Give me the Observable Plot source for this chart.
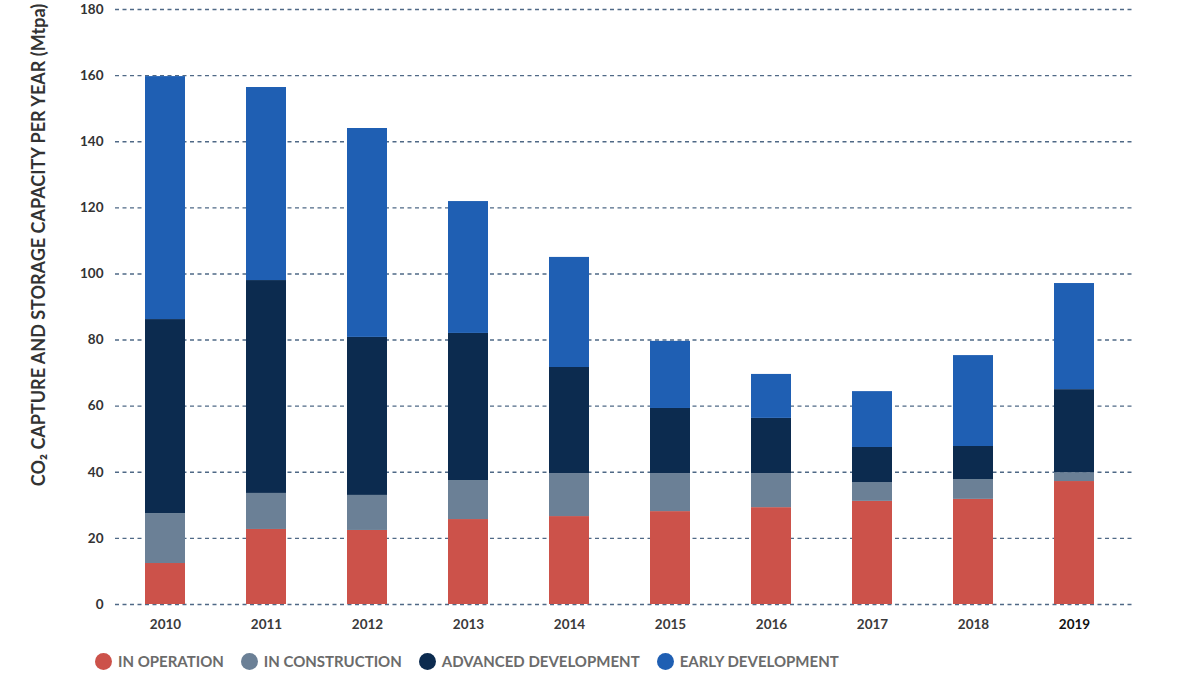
<!DOCTYPE html>
<html>
<head>
<meta charset="utf-8">
<script src="https://cdn.jsdelivr.net/npm/d3@7"></script>
<script src="https://cdn.jsdelivr.net/npm/@observablehq/plot@0.6"></script>
<style>
  body { margin: 0; background: #fff; font-family: Lato, "Open Sans", sans-serif; }
  #chart { position: relative; width: 1200px; }
  .legend { display: flex; align-items: center; padding-left: 95px; height: 34px; padding-top: 4px; }
  .legend .item { display: flex; align-items: center; margin-right: 17px; }
  .legend .dot { width: 17px; height: 17px; border-radius: 50%; margin-right: 6px; }
  .legend .lbl { font-family: Lato, sans-serif; font-weight: 700; font-size: 15px; color: #6b6b6b; }
</style>
</head>
<body>
<div id="chart"></div>
<script>
const years = ["2010","2011","2012","2013","2014","2015","2016","2017","2018","2019"];
const inOperation    = [12.4, 22.7, 22.4, 25.7, 26.6, 28.1, 29.3, 31.2, 31.8, 37.2];
const inConstruction = [15.1, 10.9, 10.6, 11.8, 13.0, 11.5, 10.3, 5.7, 6.0, 2.7];
const advancedDev    = [58.7, 64.4, 47.8, 44.5, 32.1, 19.7, 16.7, 10.6, 10.0, 25.1];
const earlyDev       = [73.5, 58.4, 63.2, 39.9, 33.3, 20.3, 13.3, 16.9, 27.5, 32.1];
const stages = ["IN OPERATION", "IN CONSTRUCTION", "ADVANCED DEVELOPMENT", "EARLY DEVELOPMENT"];
const colors = ["#cc524a", "#6b8096", "#0c2b4f", "#1f5fb3"];
const yTicks = [0, 20, 40, 60, 80, 100, 120, 140, 160, 180];
const yLabel = "CO\u2082 CAPTURE AND STORAGE CAPACITY PER YEAR (Mtpa)";

const series = [inOperation, inConstruction, advancedDev, earlyDev];
const rows = [];
stages.forEach((s, i) => years.forEach((y, j) => rows.push({year: y, stage: s, value: series[i][j]})));

const plot = Plot.plot({
  width: 1200,
  height: 640,
  marginTop: 9,
  marginBottom: 36,
  marginLeft: 115,
  marginRight: 65,
  style: { fontFamily: "Lato, sans-serif" },
  x: { domain: years, range: [142, 1097], paddingInner: 0.607, paddingOuter: 0, label: null, axis: null },
  y: { domain: [0, 180], label: null, axis: null },
  color: { domain: stages, range: colors },
  marks: [
    Plot.ruleY(yTicks, { stroke: "#4f6986", strokeWidth: 1.4, strokeDasharray: "4,3.5" }),
    Plot.barY(rows, Plot.stackY({ x: "year", y: "value", fill: "stage", order: stages })),
    Plot.axisY({ ticks: yTicks, tickSize: 0, tickPadding: 12, fontSize: 13.5, fontWeight: 700, fill: "#333", label: null }),
    Plot.axisX({ tickSize: 0, tickPadding: 15, fontSize: 13.5, fontWeight: 700, fill: (d) => d === "2019" ? "#111" : "#3a3a3a", label: null })
  ]
});

const svg = d3.select(plot);
svg.append("text")
  .attr("transform", "translate(45,245) rotate(-90)")
  .attr("text-anchor", "middle")
  .attr("font-family", "Lato, sans-serif")
  .attr("font-weight", 700)
  .attr("font-size", 18)
  .attr("fill", "#333")
  .text(yLabel);

const chart = document.getElementById("chart");
chart.appendChild(plot);

const legend = document.createElement("div");
legend.className = "legend";
stages.forEach((s, i) => {
  const it = document.createElement("div");
  it.className = "item";
  const dot = document.createElement("span");
  dot.className = "dot";
  dot.style.background = colors[i];
  const lbl = document.createElement("span");
  lbl.className = "lbl";
  lbl.textContent = s;
  it.appendChild(dot); it.appendChild(lbl);
  legend.appendChild(it);
});
chart.appendChild(legend);
</script>
</body>
</html>
